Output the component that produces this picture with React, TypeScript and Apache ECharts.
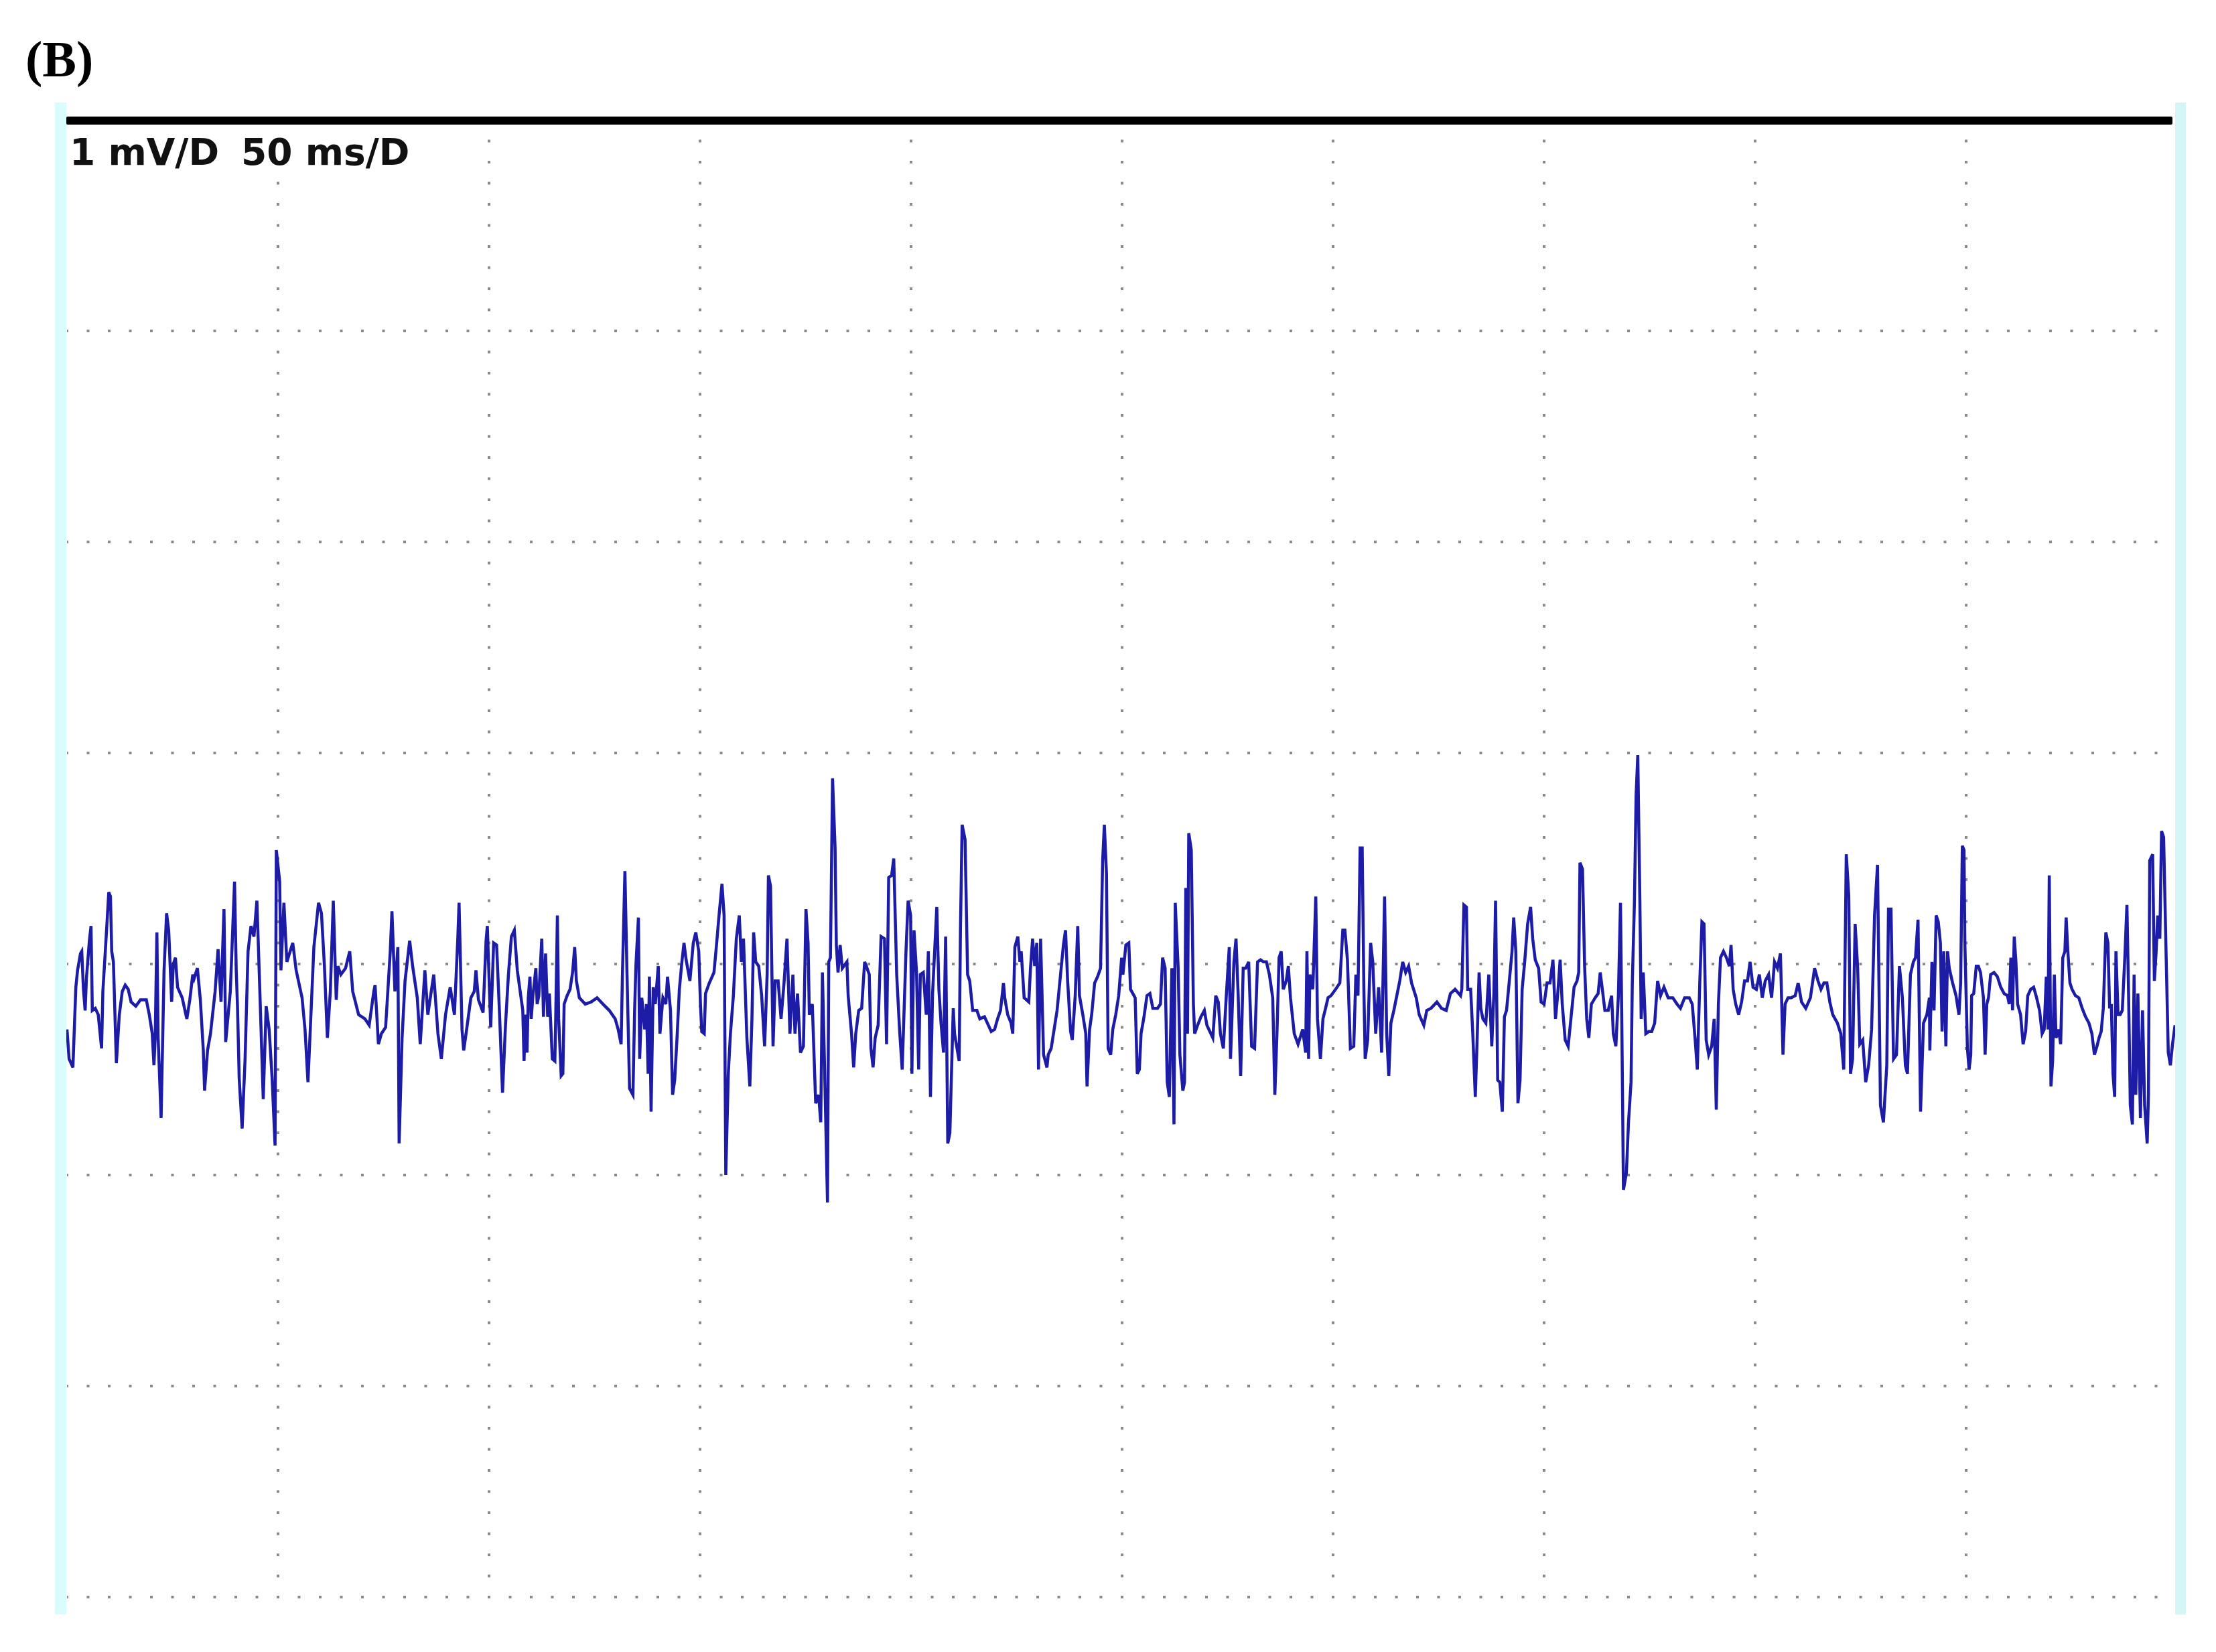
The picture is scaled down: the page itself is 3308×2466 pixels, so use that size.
import React, { useEffect, useRef } from 'react';
import * as echarts from 'echarts';

const panelLabel = '(B)';
const scaleVoltage = '1 mV/D';
const scaleTime = '50 ms/D';
const timeRange = [0, 500]; // ms, 50 ms per division
const voltRange = [-3, 4]; // mV, 1 mV per division
const timeStep = 50;
const voltStep = 1;

// [time (ms), voltage (mV)]
const traceA: [number, number][] = [
  [0, -0.31], [0.5, -0.45], [1.4, -0.49], [2.1, -0.11], [2.5, -0.03], [3.2, 0.05], [3.5, 0.06], [3.9, -0.12], [4.3, -0.22], [4.6, -0.07],
  [5.3, 0.11], [5.7, 0.18], [6.0, -0.22], [6.7, -0.21], [7.4, -0.24], [8.2, -0.4], [8.5, -0.13], [9.2, 0.1], [9.9, 0.34], [10.3, 0.32],
  [10.6, 0.06], [11.0, 0.01], [11.7, -0.47], [12.4, -0.24], [13.1, -0.13], [13.8, -0.1], [14.5, -0.12], [15.2, -0.18], [16.3, -0.2], [17.4, -0.17],
  [18.8, -0.17], [19.5, -0.24], [20.2, -0.33], [20.6, -0.48], [20.9, -0.35], [21.3, 0.15], [21.6, -0.35], [22.3, -0.73], [23.0, -0.03], [23.6, 0.24],
  [24.1, 0.16], [24.8, -0.18], [25.2, 0.0], [25.7, 0.03], [26.2, -0.11], [27.3, -0.16], [28.4, -0.26], [29.1, -0.17], [29.8, -0.05], [30.1, -0.07],
  [30.9, -0.02], [31.6, -0.17], [32.3, -0.41], [32.6, -0.6], [33.3, -0.41], [34.0, -0.33], [35.1, -0.13], [35.8, 0.07], [36.5, -0.18], [36.9, 0.08],
  [37.2, 0.26], [37.6, -0.37], [38.7, -0.13], [39.2, 0.13], [39.7, 0.39], [40.1, -0.03], [40.4, -0.2], [40.8, -0.54], [41.5, -0.78], [42.2, -0.45],
  [42.9, 0.06], [43.6, 0.18], [44.3, 0.13], [45.0, 0.3], [45.7, -0.13], [46.5, -0.64], [47.2, -0.2], [47.9, -0.31], [48.6, -0.54], [49.3, -0.86],
  [49.6, 0.54], [50.4, 0.39], [50.7, -0.03], [51.4, 0.29], [52.1, 0.01], [53.5, 0.1], [54.3, -0.03], [55.7, -0.16], [56.4, -0.31], [57.1, -0.56],
  [57.8, -0.24], [58.5, 0.08], [59.6, 0.29], [60.3, 0.24], [61.0, -0.01], [61.7, -0.35], [62.4, -0.13], [63.1, 0.3], [63.8, -0.17], [64.2, -0.01],
  [64.9, -0.05], [66.0, -0.02], [67.0, 0.06], [67.7, -0.13], [69.1, -0.24], [70.6, -0.26], [71.6, -0.29], [72.7, -0.13], [73.0, -0.1], [73.8, -0.38],
  [74.5, -0.33], [75.5, -0.3], [76.6, 0.06], [77.0, 0.25], [77.7, -0.13], [78.4, 0.08], [78.7, -0.85], [79.4, -0.35], [80.1, -0.08], [81.2, 0.11],
  [81.9, -0.01], [83.0, -0.16], [83.7, -0.38], [84.8, -0.03], [85.5, -0.24], [86.9, -0.05], [87.9, -0.33], [88.7, -0.45], [89.7, -0.24], [90.8, -0.11],
  [91.8, -0.24], [92.6, 0.12], [92.9, 0.29], [93.6, -0.31], [94.0, -0.41], [94.7, -0.31], [95.7, -0.16], [96.5, -0.13], [96.9, -0.03], [97.5, -0.17],
  [98.6, -0.23], [99.3, 0.11], [99.6, 0.18], [100.4, -0.3], [101.1, 0.1], [101.8, 0.09], [102.5, -0.24], [103.2, -0.61], [103.9, -0.29], [104.6, -0.05],
  [105.3, 0.13], [106.0, 0.16], [106.7, -0.03], [108.0, -0.22],
];

const traceB: [number, number][] = [
  [108.3, -0.46], [108.6, -0.24], [109.0, -0.42], [109.3, -0.16], [109.7, -0.06], [110.0, -0.26], [110.4, -0.15], [111.1, -0.02], [111.4, -0.19], [111.8, -0.15],
  [112.5, 0.12], [112.9, -0.25], [113.4, 0.05], [113.9, -0.25], [114.3, -0.14], [115.0, -0.45], [115.6, -0.46], [115.8, -0.26], [116.2, 0.23], [116.5, -0.26],
  [117.1, -0.53], [117.5, -0.52], [117.8, -0.19], [118.5, -0.15], [119.2, -0.12], [119.8, -0.04], [120.3, 0.08], [120.7, -0.08], [121.4, -0.16], [122.8, -0.19],
  [124.2, -0.18], [125.6, -0.16], [127.0, -0.19], [128.5, -0.22], [129.9, -0.26], [130.6, -0.31], [131.3, -0.38], [131.6, -0.06], [132.2, 0.44], [132.7, -0.05],
  [133.3, -0.59], [134.1, -0.62], [134.5, -0.22], [134.8, -0.01], [135.4, 0.22], [135.7, -0.45], [136.2, -0.16], [136.9, -0.31], [137.3, -0.19], [137.7, -0.52],
  [138.0, -0.06], [138.4, -0.7], [138.9, -0.11], [139.4, -0.19], [140.1, -0.01], [140.5, -0.33], [141.2, -0.16], [141.9, -0.19], [142.3, -0.06], [143.0, -0.22],
  [143.5, -0.62], [144.0, -0.55], [144.6, -0.33], [145.1, -0.12], [145.7, 0.01], [146.2, 0.1], [146.7, 0.02], [147.6, -0.08], [148.4, 0.1], [149.0, 0.15],
  [149.7, 0.06], [150.1, -0.19], [150.4, -0.32], [151.0, -0.33], [151.3, -0.14], [152.2, -0.09], [153.3, -0.04], [153.9, 0.09], [154.5, 0.23], [155.2, 0.38],
  [155.7, 0.23], [156.1, -1.0], [156.7, -0.52], [157.2, -0.33], [157.9, -0.15], [158.6, 0.12], [159.3, 0.23], [159.8, 0.01], [160.3, 0.12], [161.1, -0.35],
  [161.8, -0.58], [162.3, -0.26], [162.7, 0.15], [163.2, 0.01], [163.9, -0.01], [164.6, -0.15], [165.3, -0.39], [165.9, -0.05], [166.2, 0.42], [166.7, 0.37],
  [167.3, -0.39], [167.8, -0.08], [168.5, -0.08], [169.2, -0.26], [169.9, -0.09], [170.6, 0.12], [171.3, -0.33], [172.0, -0.05], [172.5, -0.33], [173.1, -0.14],
  [173.8, -0.42], [174.5, -0.39], [175.1, 0.26], [175.6, 0.1], [175.9, -0.24], [176.6, -0.19], [177.4, -0.66], [178.1, -0.62], [178.6, -0.75], [179.0, -0.04],
  [179.5, -0.48], [180.2, -1.13], [180.5, 0.01], [180.9, 0.03], [181.4, 0.88], [182.0, 0.55], [182.3, 0.09], [182.7, -0.04], [183.2, 0.09], [183.7, -0.02],
  [184.8, 0.01], [185.1, -0.15], [185.9, -0.33], [186.4, -0.49], [186.9, -0.33], [187.6, -0.22], [188.3, -0.21], [189.0, 0.01], [189.4, -0.01], [190.1, -0.05],
  [190.5, -0.4], [191.0, -0.49], [191.5, -0.35], [192.2, -0.29], [192.9, 0.13], [193.7, 0.12], [194.2, -0.38], [194.7, 0.41], [195.4, 0.42], [195.9, 0.5],
  [196.6, -0.05], [197.3, -0.32], [197.9, -0.5], [198.8, 0.06], [199.3, 0.3], [199.9, 0.23], [200.2, -0.52], [200.7, 0.16], [201.3, -0.04], [201.8, -0.5],
  [202.2, -0.05], [202.9, -0.04], [203.6, -0.24], [204.1, 0.06], [204.6, -0.63], [205.1, -0.14], [206.1, 0.27], [206.6, -0.12], [207.1, -0.28], [207.7, -0.42],
  [208.2, 0.13], [208.7, -0.85], [209.2, -0.8], [210.0, -0.21], [210.3, -0.33], [211.4, -0.46], [211.7, 0.15], [212.1, 0.66], [212.8, 0.59], [213.4, -0.05],
  [213.9, -0.08], [214.6, -0.22], [215.6, -0.22], [216.3, -0.26], [217.4, -0.25], [219.0, -0.32],
];

const traceC: [number, number][] = [
  [219.8, -0.31], [220.5, -0.26], [221.2, -0.22], [221.9, -0.09], [222.2, -0.16], [222.9, -0.24], [223.7, -0.28], [224.1, -0.33], [224.6, 0.08], [225.3, 0.13],
  [225.8, 0.01], [226.1, 0.06], [226.8, -0.16], [227.9, -0.18], [228.3, -0.02], [228.8, 0.12], [229.3, -0.01], [229.8, 0.1], [230.2, -0.5], [230.7, 0.12],
  [231.4, -0.43], [232.2, -0.49], [232.5, -0.43], [233.2, -0.4], [234.6, -0.22], [236.1, 0.09], [236.6, 0.16], [237.1, -0.08], [237.8, -0.32], [238.2, -0.36],
  [238.9, -0.15], [239.5, 0.18], [239.9, -0.15], [240.7, -0.24], [241.4, -0.33], [241.7, -0.58], [242.3, -0.31], [242.8, -0.24], [243.5, -0.09], [244.2, -0.06],
  [244.9, -0.02], [245.4, 0.49], [245.8, 0.66], [246.3, 0.43], [246.7, -0.4], [247.3, -0.43], [247.8, -0.31], [248.5, -0.24], [249.2, -0.15], [249.9, 0.03],
  [250.2, -0.05], [250.9, 0.09], [251.6, 0.1], [252.0, -0.12], [253.1, -0.16], [253.6, -0.52], [254.1, -0.5], [254.5, -0.33], [255.2, -0.25], [255.9, -0.15],
  [256.6, -0.14], [257.3, -0.21], [258.4, -0.21], [259.1, -0.19], [259.6, 0.03], [260.2, -0.02], [260.7, -0.56], [261.2, -0.63], [261.8, -0.02], [262.3, -0.76],
  [262.6, 0.29], [263.3, -0.02], [263.7, -0.43], [264.4, -0.6], [264.8, -0.56], [265.1, 0.36], [265.5, -0.33], [265.8, 0.62], [266.4, 0.54], [266.9, -0.19],
  [267.2, -0.33], [267.9, -0.29], [268.7, -0.25], [269.5, -0.22], [270.1, -0.29], [270.8, -0.32], [271.5, -0.35], [272.2, -0.15], [272.8, -0.18], [273.3, -0.33],
  [274.0, -0.4], [274.7, -0.15], [275.4, 0.08], [275.7, -0.45], [276.5, 0.01], [277.0, 0.12], [277.5, -0.14], [278.1, -0.53], [278.7, -0.02], [279.3, -0.02],
  [280.0, 0.01], [280.7, -0.39], [281.4, -0.4], [282.1, 0.01], [282.8, 0.02], [283.5, 0.01], [284.2, 0.01], [284.9, -0.05], [285.7, -0.16], [286.2, -0.62],
  [286.7, -0.33], [287.2, 0.03], [287.7, 0.06], [288.2, -0.12], [288.9, -0.08], [289.4, -0.01], [289.9, -0.16], [290.8, -0.33], [291.7, -0.38], [292.8, -0.31],
  [293.5, -0.42], [293.8, 0.06], [294.2, -0.45], [294.5, -0.05], [295.2, -0.12], [295.9, 0.32], [296.3, -0.26], [297.0, -0.45], [297.6, -0.26], [298.1, -0.22],
  [298.8, -0.16], [299.5, -0.15], [300.6, -0.12], [301.6, -0.09], [302.3, 0.16], [302.8, 0.16], [303.4, 0.02], [304.1, -0.4], [304.9, -0.39], [305.4, -0.05],
  [305.9, -0.15], [306.4, 0.55], [306.9, 0.55], [307.3, -0.12], [307.6, -0.45], [308.2, -0.36], [308.9, 0.1], [309.4, 0.01], [310.1, -0.33], [310.8, -0.11],
  [311.5, -0.42], [312.2, 0.32], [312.7, -0.33], [313.2, -0.53], [313.7, -0.28], [314.4, -0.22], [315.1, -0.15], [315.8, -0.08], [316.5, 0.01], [317.2, -0.04],
  [317.9, -0.01], [318.6, -0.09], [319.7, -0.16], [320.4, -0.24], [321.5, -0.29], [322.2, -0.22], [323.2, -0.21], [324.6, -0.18], [325.7, -0.21], [326.8, -0.22],
  [327.8, -0.14], [328.9, -0.12], [330.2, -0.15],
];

const traceD: [number, number][] = [
  [330.5, -0.12], [331.0, 0.28], [331.6, 0.27], [331.9, -0.12], [332.6, -0.12], [333.1, -0.33], [333.7, -0.63], [334.1, -0.38], [334.6, -0.04], [335.0, -0.21],
  [335.5, -0.26], [336.2, -0.28], [336.9, -0.05], [337.6, -0.39], [338.1, -0.14], [338.5, 0.3], [339.0, -0.55], [339.5, -0.56], [340.1, -0.7], [340.6, -0.25],
  [341.1, -0.22], [341.9, -0.05], [342.4, 0.06], [342.8, 0.22], [343.3, 0.06], [343.8, -0.66], [344.3, -0.55], [344.8, -0.12], [345.4, 0.01], [346.1, 0.19],
  [346.8, 0.27], [347.3, 0.12], [347.9, 0.02], [348.7, -0.02], [349.3, -0.18], [350.0, -0.19], [350.7, -0.09], [351.4, -0.09], [352.1, 0.02], [352.7, -0.26],
  [353.2, -0.15], [353.8, 0.02], [354.3, -0.19], [355.0, -0.36], [355.7, -0.39], [356.4, -0.25], [357.1, -0.11], [357.8, -0.08], [358.2, -0.04], [358.5, 0.48],
  [359.1, 0.45], [359.6, -0.01], [360.1, -0.26], [360.6, -0.35], [361.2, -0.19], [362.1, -0.16], [362.8, -0.14], [363.3, -0.04], [363.8, -0.12], [364.4, -0.22],
  [365.2, -0.22], [366.0, -0.15], [366.4, -0.33], [367.0, -0.39], [367.6, -0.15], [368.1, 0.29], [368.4, -0.25], [368.8, -1.07], [369.5, -0.99], [370.0, -0.75],
  [370.6, -0.56], [370.9, -0.09], [371.4, 0.29], [371.8, 0.8], [372.2, 0.99], [372.7, 0.29], [373.0, -0.26], [373.5, -0.04], [374.1, -0.33], [374.8, -0.32],
  [375.5, -0.32], [376.2, -0.28], [376.9, -0.08], [377.6, -0.15], [378.4, -0.11], [379.4, -0.16], [380.5, -0.16], [381.5, -0.19], [382.3, -0.21], [383.3, -0.16],
  [384.4, -0.16], [385.1, -0.19], [385.8, -0.36], [386.3, -0.5], [386.9, -0.08], [387.4, 0.2], [387.9, 0.19], [388.4, -0.36], [389.0, -0.43], [389.7, -0.39],
  [390.3, -0.26], [390.8, -0.69], [391.3, -0.19], [391.8, 0.03], [392.5, 0.06], [393.2, 0.03], [393.9, -0.01], [394.3, 0.09], [394.8, -0.12], [395.4, -0.19],
  [396.1, -0.24], [396.8, -0.18], [397.5, -0.08], [398.2, -0.08], [398.8, 0.01], [399.5, -0.11], [400.3, -0.12], [401.0, -0.05], [401.7, -0.16], [402.4, -0.08],
  [403.2, -0.05], [403.9, -0.16], [404.6, 0.01], [405.3, -0.02], [406.0, 0.05], [406.4, -0.26], [406.6, -0.43], [407.1, -0.19], [407.8, -0.16], [408.5, -0.16],
  [409.5, -0.15], [410.2, -0.09], [411.0, -0.18], [412.0, -0.21], [413.1, -0.16], [414.1, -0.02], [414.9, -0.08], [415.6, -0.12], [416.3, -0.09], [417.0, -0.09],
  [417.7, -0.18], [418.4, -0.24], [419.5, -0.28], [420.3, -0.33], [421.0, -0.5], [421.6, 0.52], [422.2, 0.32], [422.6, -0.52], [423.1, -0.45], [423.7, 0.19],
  [424.3, -0.02], [424.8, -0.38], [425.5, -0.36], [426.2, -0.56], [426.9, -0.48], [427.6, -0.31], [428.3, 0.23], [429.0, 0.47], [429.7, -0.67], [430.4, -0.75],
  [431.2, -0.48], [431.6, 0.26], [432.2, 0.26], [432.8, -0.45], [433.5, -0.43], [434.2, -0.01], [434.9, -0.16], [435.6, -0.48], [436.1, -0.52], [436.8, -0.05],
  [437.5, 0.01], [438.0, 0.03], [438.6, 0.21], [439.2, -0.7], [439.9, -0.28], [440.7, -0.24], [441.3, -0.16],
];

const traceE: [number, number][] = [
  [441.4, -0.41], [441.9, 0.01], [442.4, -0.22], [442.9, 0.23], [443.4, 0.2], [443.9, 0.1], [444.3, -0.32], [444.7, 0.06], [445.2, -0.39], [445.6, 0.06],
  [446.0, -0.02], [446.8, -0.09], [447.6, -0.15], [448.3, -0.24], [448.7, -0.09], [449.1, 0.56], [449.5, 0.54], [449.7, 0.1], [450.3, -0.4], [450.7, -0.5],
  [451.1, -0.43], [451.3, -0.15], [451.8, -0.14], [452.4, -0.01], [452.9, -0.01], [453.4, -0.04], [454.1, -0.16], [454.5, -0.43], [454.9, -0.19], [455.3, -0.16],
  [455.8, -0.05], [456.6, -0.04], [457.4, -0.06], [458.2, -0.11], [459.0, -0.14], [459.8, -0.15], [460.2, -0.19], [460.6, 0.03], [461.0, -0.22], [461.4, 0.13],
  [461.8, 0.01], [462.2, -0.19], [462.9, -0.24], [463.5, -0.38], [464.1, -0.32], [464.6, -0.15], [465.3, -0.12], [466.0, -0.11], [466.7, -0.16], [467.4, -0.22],
  [468.0, -0.33], [468.5, -0.31], [469.0, -0.06], [469.4, -0.31], [469.7, 0.42], [470.1, -0.58], [470.5, -0.46], [470.9, -0.05], [471.3, -0.35], [471.9, -0.31],
  [472.4, -0.38], [472.9, 0.03], [473.4, 0.06], [473.7, 0.22], [474.1, 0.06], [474.6, -0.09], [475.1, -0.12], [475.9, -0.15], [476.7, -0.16], [477.5, -0.21],
  [478.3, -0.25], [479.1, -0.28], [479.8, -0.33], [480.4, -0.43], [481.0, -0.39], [481.5, -0.35], [482.0, -0.32], [482.5, -0.21], [483.1, 0.15], [483.6, 0.1],
  [484.0, -0.21], [484.4, -0.19], [484.8, -0.52], [485.2, -0.63], [485.5, 0.06], [486.0, -0.24], [486.5, -0.24], [487.0, -0.22], [487.6, 0.03], [488.1, 0.28],
  [488.5, -0.15], [488.9, -0.67], [489.4, -0.76], [489.8, -0.05], [490.2, -0.62], [490.7, -0.14], [491.3, -0.73], [491.8, -0.22], [492.3, -0.67], [492.9, -0.85],
  [493.2, -0.62], [493.5, 0.49], [494.2, 0.52], [494.6, -0.08], [495.0, 0.05], [495.4, 0.23], [495.9, 0.12], [496.3, 0.63], [496.8, 0.6], [497.4, 0.03],
  [497.9, -0.42], [498.4, -0.48], [498.9, -0.38], [499.5, -0.29],
];

export default function App() {
  const ref = useRef<HTMLDivElement>(null);

  useEffect(() => {
    if (!ref.current) return;
    const chart = echarts.init(ref.current, null, { renderer: 'svg' });
    const dotStyle = { color: '#8a8a8a', width: 4, type: [4, 27.5], dashOffset: 2 };
    const trace = [...traceA, ...traceB, ...traceC, ...traceD, ...traceE];

    chart.setOption({
      animation: false,
      backgroundColor: '#ffffff',
      grid: { left: 100, top: 179, width: 3150, height: 2205, containLabel: false, outerBoundsMode: 'none' },
      xAxis: {
        type: 'value',
        min: timeRange[0],
        max: timeRange[1],
        interval: timeStep,
        axisLine: { show: false },
        axisTick: { show: false },
        axisLabel: { show: false },
        splitLine: { show: true, showMinLine: false, showMaxLine: false, lineStyle: dotStyle },
      },
      yAxis: {
        type: 'value',
        min: voltRange[0],
        max: voltRange[1],
        interval: voltStep,
        axisLine: { show: false },
        axisTick: { show: false },
        axisLabel: { show: false },
        splitLine: { show: true, showMinLine: true, showMaxLine: false, lineStyle: dotStyle },
      },
      series: [
        {
          type: 'line',
          data: trace,
          showSymbol: false,
          symbol: 'none',
          silent: true,
          lineStyle: { color: '#1c1ca6', width: 4.5, join: 'miter', miterLimit: 4 },
          z: 3,
        },
      ],
      graphic: [
        { type: 'rect', z: 10, shape: { x: 82, y: 153, width: 17, height: 2257 }, style: { fill: '#dafcfc' } },
        { type: 'rect', z: 10, shape: { x: 3247, y: 153, width: 16, height: 2257 }, style: { fill: '#d4f6f6' } },
        { type: 'rect', z: 10, shape: { x: 99, y: 174, width: 3144, height: 12, r: 2 }, style: { fill: '#000000' } },
        {
          type: 'text', z: 10, x: 38, y: 88,
          style: { text: panelLabel, font: 'bold 76px "Liberation Serif", serif', fill: '#000000', align: 'left', verticalAlign: 'middle' },
        },
        {
          type: 'text', z: 10, x: 104, y: 227,
          style: { text: scaleVoltage, font: 'bold 55px "DejaVu Sans", sans-serif', fill: '#111111', align: 'left', verticalAlign: 'middle' },
        },
        {
          type: 'text', z: 10, x: 360, y: 227,
          style: { text: scaleTime, font: 'bold 55px "DejaVu Sans", sans-serif', fill: '#111111', align: 'left', verticalAlign: 'middle' },
        },
      ],
    });
    return () => chart.dispose();
  }, []);

  return <div ref={ref} style={{ position: 'absolute', left: 0, top: 0, width: 3308, height: 2466 }} />;
}
